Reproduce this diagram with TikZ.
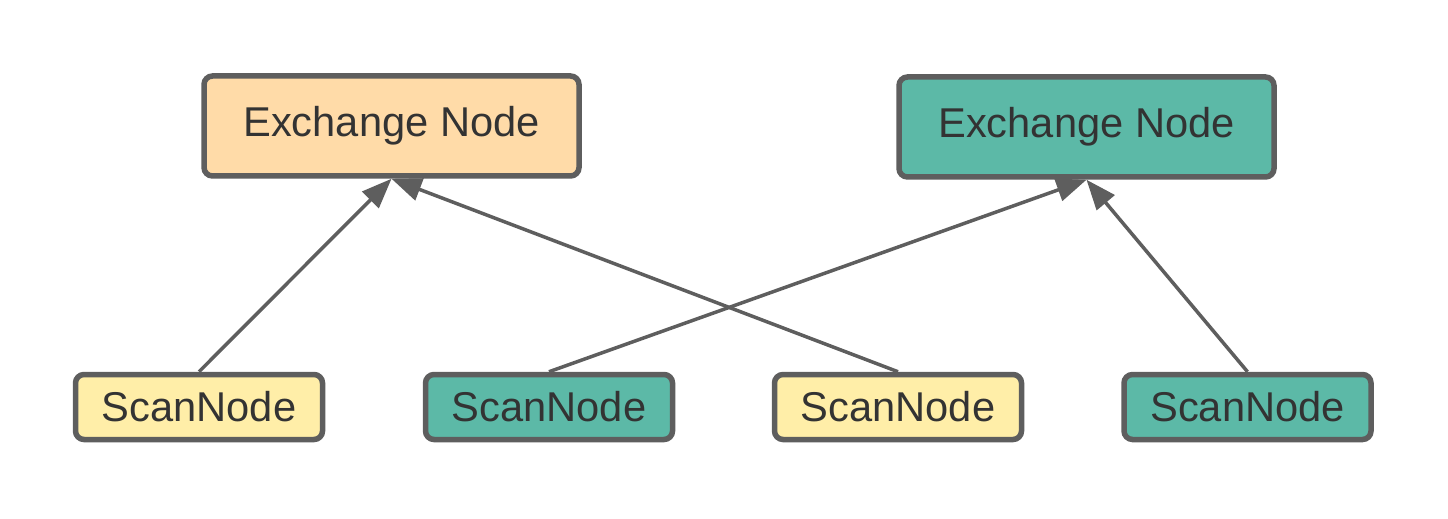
\documentclass[tikz,border=0pt]{standalone}
\usepackage{fontspec}
\setmainfont{Liberation Sans}
\usepackage{xcolor}
\usetikzlibrary{arrows.meta}
\definecolor{ink}{HTML}{333333}
\definecolor{edge}{HTML}{5E5E5E}
\definecolor{orangefill}{HTML}{FFDBA8}
\definecolor{yellowfill}{HTML}{FFEEA8}
\definecolor{tealfill}{HTML}{5CB9A7}

\begin{document}
\begin{tikzpicture}[
  font=\fontsize{23.7}{28}\selectfont,
  link/.style={-{Triangle[length=0.6cm,width=0.46cm]},line width=0.07cm,draw=edge},
  box/.style={draw=edge,rounded corners=0.17cm,line width=0.11cm,
              align=center,text=ink,inner sep=0pt},
  exch/.style={box,minimum width=7.5cm,minimum height=2.0cm},
  scan/.style={box,minimum width=4.94cm,minimum height=1.3cm}
]
\useasboundingbox (0,0) rectangle (28.96,10.36);

% Exchange row
\node[exch,fill=orangefill] (exchL) at (7.83,7.84) {Exchange Node};
\node[exch,fill=tealfill] (exchR) at (21.73,7.82) {Exchange Node};

% Scan row
\node[scan,fill=yellowfill] (scan1) at (3.98,2.22) {ScanNode};
\node[scan,fill=tealfill] (scan2) at (10.98,2.22) {ScanNode};
\node[scan,fill=yellowfill] (scan3) at (17.96,2.22) {ScanNode};
\node[scan,fill=tealfill] (scan4) at (24.95,2.22) {ScanNode};

% Links
\draw[link] (scan1.north) -- (exchL.south);
\draw[link] (scan3.north) -- (exchL.south);
\draw[link] (scan2.north) -- (exchR.south);
\draw[link] (scan4.north) -- (exchR.south);

\end{tikzpicture}
\end{document}
